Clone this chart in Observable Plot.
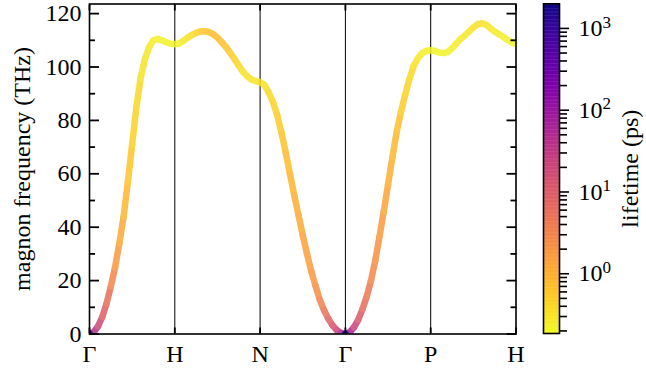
<!DOCTYPE html>
<html><head><meta charset="utf-8">
<script src="https://cdn.jsdelivr.net/npm/d3@7"></script>
<script src="https://cdn.jsdelivr.net/npm/@observablehq/plot@0.6"></script>
<style>
body{margin:0;background:#fff;}
#wrap{position:relative;width:646px;height:370px;}
#wrap svg{position:absolute;left:0;top:0;}
#wrap svg text{font-family:"Liberation Serif",serif;}
</style></head><body><div id="wrap"></div>
<script>
// path coordinate along Γ-H-N-Γ-P-H (each segment drawn with equal length)
const kpos = [
  0,0.05,0.1,0.15,0.2,0.25,0.3,0.35,0.4,0.45,0.5,0.55,0.6,0.65,0.7,0.75,0.8,0.85,0.9,0.95,1,
  1.05,1.1,1.15,1.2,1.25,1.3,1.35,1.4,1.45,1.5,1.55,1.6,1.65,1.7,1.75,1.8,1.85,1.9,1.95,2,
  2.05,2.1,2.15,2.2,2.25,2.3,2.35,2.4,2.45,2.5,2.55,2.6,2.65,2.7,2.75,2.8,2.85,2.9,2.95,3,
  3.05,3.1,3.15,3.2,3.25,3.3,3.35,3.4,3.45,3.5,3.55,3.6,3.65,3.7,3.75,3.8,3.85,3.9,3.95,4,
  4.05,4.1,4.15,4.2,4.25,4.3,4.35,4.4,4.45,4.5,4.55,4.6,4.65,4.7,4.75,4.8,4.85,4.9,4.95,5
];
// magnon frequency (THz)
const freq = [
  0,0.7,2.9,6.4,11.4,17.8,25,34,44,57,71,85,96,103,107.5,110,110.5,110,109.3,108.7,108.5,
  108.8,109.8,111,112,112.8,113.3,113.4,113.1,112.3,111,109.3,107.5,105.3,103,100.5,98.2,96.5,95.3,94.7,94.3,
  93.3,90.5,87,82,75.5,68,60,52,44.5,37,30,23.5,18,12.8,8.9,5.7,3.2,1.4,0.35,0,
  0.6,2.5,5.3,9.3,14,20,27.5,36.5,46,56,66,75.5,83,89.5,95.5,100.3,103.3,105.2,106,106.3,
  106,105.4,105.2,105.6,107,108.8,110.5,111.8,113.3,114.8,116,116.4,115.8,114.5,113.3,112.3,111.3,110.2,109.2,108.6
];
// magnon lifetime (ps)
const lifetime = [
  1500,40,18,9,5.5,3,1.7,1.15,0.8,0.58,0.46,0.38,0.32,0.28,0.25,0.24,0.23,0.22,0.22,0.22,0.22,
  0.23,0.26,0.3,0.35,0.42,0.5,0.58,0.65,0.7,0.7,0.65,0.58,0.5,0.42,0.36,0.32,0.3,0.29,0.29,0.3,
  0.32,0.36,0.42,0.5,0.6,0.72,0.85,1.0,1.15,1.3,1.5,1.8,2.3,3.3,5,8,13,22,60,1500,
  60,22,11,6,4,2.8,2.1,1.6,1.25,1.0,0.8,0.65,0.52,0.43,0.36,0.31,0.27,0.24,0.23,0.22,
  0.22,0.22,0.22,0.22,0.23,0.24,0.25,0.26,0.28,0.3,0.31,0.31,0.29,0.27,0.25,0.24,0.23,0.22,0.21,0.21
];
const symPos = [0,1,2,3,4,5];
const symLabels = ["Γ","H","N","Γ","P","H"];
const yMajor = [0,20,40,60,80,100,120];
const yMinor = [10,30,50,70,90,110];
const cbMajor = [1,10,100,1000];
const cbMinor = [0.2,0.3,0.4,0.5,0.6,0.7,0.8,0.9,2,3,4,5,6,7,8,9,20,30,40,50,60,70,80,90,200,300,400,500,600,700,800,900];
const lifeDomain = [0.186, 2000];

const data = kpos.map((k,i)=>({k, f:freq[i], tau:lifetime[i]}));
const colorScale = {type:"log", scheme:"plasma", reverse:true, domain:lifeDomain};
const font = "Liberation Serif";

const main = Plot.plot({
  width:646, height:370, marginLeft:89, marginRight:130.5, marginTop:3.5, marginBottom:36.5,
  style:{fontFamily:font, fontSize:"24px", background:"white", color:"black"},
  x:{domain:[0,5], label:null},
  y:{domain:[0,123.6], label:null},
  color:colorScale,
  marks:[
    Plot.ruleX([1,2,3,4], {stroke:"black", strokeWidth:1}),
    Plot.line(data, {x:"k", y:"f", stroke:"tau", z:null, strokeWidth:6.5, strokeLinecap:"round", strokeLinejoin:"round", clip:true}),
    Plot.dot(data.filter(d=>d.tau>500), {x:"k", y:"f", fill:"tau", r:3.5, clip:true}),
    Plot.axisY(yMajor, {anchor:"left", tickSize:-10, tickPadding:18, strokeWidth:1.8, fontSize:24, fontFamily:font,
      label:"magnon frequency (THz)", labelAnchor:"center", labelArrow:"none", labelOffset:77}),
    Plot.axisY(yMinor, {anchor:"left", tickSize:-6, strokeWidth:1.8, tickFormat:()=>"", label:null}),
    Plot.axisY(yMajor, {anchor:"right", tickSize:-10, strokeWidth:1.8, tickFormat:()=>"", label:null}),
    Plot.axisY(yMinor, {anchor:"right", tickSize:-6, strokeWidth:1.8, tickFormat:()=>"", label:null}),
    Plot.axisX(symPos, {anchor:"bottom", tickSize:-6, tickPadding:17, strokeWidth:1.8, fontSize:24, fontFamily:font,
      tickFormat:d=>symLabels[d], label:null}),
    Plot.axisX(symPos, {anchor:"top", tickSize:-6, strokeWidth:1.8, tickFormat:()=>"", label:null}),
    Plot.frame({stroke:"black", strokeWidth:1.6})
  ]
});
// translucent band as a whole (like alpha-blended markers on white)
main.querySelectorAll('g[aria-label="line"], g[aria-label="dot"]').forEach(g=>g.setAttribute("opacity","0.85"));

const la = Math.log(lifeDomain[0]), lb = Math.log(lifeDomain[1]), nStops = 240;
const cbStops = d3.range(nStops).map(i=>({
  y1:Math.exp(la+(lb-la)*i/nStops),
  y2:Math.exp(la+(lb-la)*Math.min(nStops,i+1.3)/nStops),
  v:Math.exp(la+(lb-la)*(i+0.5)/nStops)
}));

const cb = Plot.plot({
  width:646, height:370, marginLeft:543, marginRight:87, marginTop:3.3, marginBottom:37,
  style:{fontFamily:font, fontSize:"24px", background:"transparent", color:"black"},
  x:{domain:[0,1], axis:null},
  y:{type:"log", domain:lifeDomain, label:null},
  color:colorScale,
  marks:[
    Plot.rect(cbStops, {x1:0, x2:1, y1:"y1", y2:"y2", fill:"v", inset:0}),
    Plot.frame({stroke:"black", strokeWidth:1.6}),
    Plot.axisY(cbMajor, {anchor:"right", tickSize:9, tickPadding:10, strokeWidth:1.6, fontSize:24, fontFamily:font,
      tickFormat:d=>"10^"+Math.round(Math.log10(d)),
      label:"lifetime (ps)", labelAnchor:"center", labelArrow:"none", labelOffset:78}),
    Plot.axisY(cbMinor, {anchor:"right", tickSize:7, strokeWidth:1.6, tickFormat:()=>"", label:null})
  ]
});

cb.querySelectorAll("text").forEach(t=>{
  const m = t.textContent.match(/^10\^(-?\d+)$/);
  if (m) {
    t.textContent = "10";
    const s = document.createElementNS("http://www.w3.org/2000/svg","tspan");
    s.setAttribute("dy","-0.5em");
    s.setAttribute("font-size","17");
    s.textContent = m[1];
    t.appendChild(s);
  }
});

const wrap = document.getElementById("wrap");
wrap.appendChild(main);
wrap.appendChild(cb);
</script>
</body></html>
